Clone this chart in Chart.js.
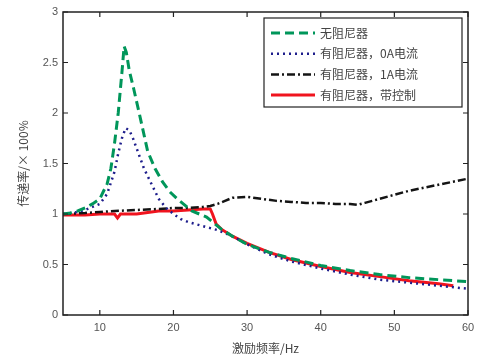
<!DOCTYPE html>
<html>
<head>
<meta charset="utf-8">
<script src="https://cdn.jsdelivr.net/npm/chart.js@4"></script>
<style>
  body { margin: 0; background: #fff; }
</style>
</head>
<body>
<canvas id="chart" width="485" height="360"></canvas>
<script>
// data
const noDamperX = [5, 6, 7, 8, 9, 10, 11, 11.5, 12, 12.5, 13, 13.3, 13.6, 14, 14.6, 15.5, 16.5, 17.5, 18.5, 19.5, 20.5, 21.5, 22.5, 23.5, 24.5, 25.5, 26.5, 28, 30, 33, 36, 40, 44, 48, 52, 56, 60];
const noDamperY = [1.0, 1.01, 1.03, 1.06, 1.1, 1.15, 1.3, 1.45, 1.7, 2.0, 2.4, 2.66, 2.6, 2.42, 2.24, 1.95, 1.62, 1.45, 1.32, 1.22, 1.15, 1.09, 1.03, 1.0, 0.97, 0.91, 0.85, 0.78, 0.7, 0.62, 0.56, 0.49, 0.44, 0.4, 0.37, 0.35, 0.33];

const damper0AX = [5, 6, 7, 8, 9, 10, 11, 12, 12.5, 13, 13.5, 14, 14.5, 15, 16, 17, 18, 19, 20, 21, 22, 23, 24, 25, 26, 28, 30, 33, 36, 40, 44, 48, 52, 56, 60];
const damper0AY = [1.0, 1.01, 1.02, 1.04, 1.07, 1.1, 1.2, 1.42, 1.6, 1.75, 1.85, 1.83, 1.75, 1.65, 1.45, 1.3, 1.15, 1.06, 1.0, 0.95, 0.92, 0.9, 0.88, 0.86, 0.84, 0.78, 0.7, 0.6, 0.53, 0.46, 0.4, 0.35, 0.32, 0.29, 0.26];

const damper1AX = [5, 8, 10, 12, 15, 18, 20, 22, 24, 25, 26, 27, 28, 30, 32, 34, 36, 38, 40, 42, 44, 45, 46, 48, 50, 52, 54, 56, 58, 60];
const damper1AY = [1.0, 1.01, 1.02, 1.03, 1.04, 1.05, 1.06, 1.06, 1.07, 1.08, 1.1, 1.13, 1.16, 1.17, 1.15, 1.13, 1.12, 1.11, 1.11, 1.1, 1.1, 1.09, 1.11, 1.15, 1.19, 1.23, 1.26, 1.29, 1.32, 1.35];

const controlX = [5, 8, 10, 12, 12.4, 12.8, 14, 15, 16, 17, 18, 20, 22, 24, 25, 25.3, 25.8, 26.5, 28, 30, 33, 36, 40, 44, 48, 52, 56, 58];
const controlY = [0.99, 0.99, 1.0, 1.0, 0.96, 1.0, 1.0, 1.0, 1.01, 1.02, 1.03, 1.03, 1.04, 1.05, 1.05, 1.0, 0.9, 0.85, 0.78, 0.71, 0.62, 0.55, 0.48, 0.42, 0.38, 0.34, 0.31, 0.29];

const seriesLabels = ['无阻尼器', '有阻尼器，0A电流', '有阻尼器，1A电流', '有阻尼器，带控制'];
const xTicks = [10, 20, 30, 40, 50, 60];
const yTicks = [0, 0.5, 1, 1.5, 2, 2.5, 3];

function toPoints(xs, ys) {
  return xs.map((x, i) => ({ x: x, y: ys[i] }));
}

// box around the plot with inward ticks on all four sides
const boxPlugin = {
  id: 'box',
  afterDraw(chart) {
    const ctx = chart.ctx;
    const a = chart.chartArea;
    const xs = chart.scales.x, ys = chart.scales.y;
    ctx.save();
    ctx.strokeStyle = '#222';
    ctx.lineWidth = 1.5;
    ctx.strokeRect(a.left, a.top, a.right - a.left, a.bottom - a.top);
    ctx.lineWidth = 1.2;
    ctx.beginPath();
    xTicks.forEach(v => {
      const p = xs.getPixelForValue(v);
      ctx.moveTo(p, a.bottom); ctx.lineTo(p, a.bottom - 5);
      ctx.moveTo(p, a.top); ctx.lineTo(p, a.top + 5);
    });
    yTicks.forEach(v => {
      const p = ys.getPixelForValue(v);
      ctx.moveTo(a.left, p); ctx.lineTo(a.left + 5, p);
      ctx.moveTo(a.right, p); ctx.lineTo(a.right - 5, p);
    });
    ctx.stroke();
    ctx.restore();
  }
};

// legend box inside the plot, top right
const legendPlugin = {
  id: 'boxLegend',
  afterDraw(chart) {
    const ctx = chart.ctx;
    const bx = 264, by = 18, bw = 198, bh = 89;
    ctx.save();
    ctx.fillStyle = '#fff';
    ctx.fillRect(bx, by, bw, bh);
    ctx.strokeStyle = '#222';
    ctx.lineWidth = 1.2;
    ctx.strokeRect(bx, by, bw, bh);
    chart.data.datasets.forEach((ds, i) => {
      const y = by + 15 + i * 20.7;
      ctx.strokeStyle = ds.borderColor;
      ctx.lineWidth = ds.borderWidth;
      ctx.setLineDash(ds.borderDash || []);
      ctx.beginPath();
      ctx.moveTo(bx + 7, y);
      ctx.lineTo(bx + 51, y);
      ctx.stroke();
      ctx.setLineDash([]);
      ctx.fillStyle = '#444';
      ctx.font = '12px "Noto Sans CJK SC"';
      ctx.textBaseline = 'middle';
      ctx.fillText(ds.label, bx + 56, y);
    });
    ctx.restore();
  }
};

const ctx = document.getElementById('chart').getContext('2d');
new Chart(ctx, {
  type: 'line',
  data: {
    datasets: [
      {
        label: seriesLabels[0],
        data: toPoints(noDamperX, noDamperY),
        borderColor: 'rgb(0, 150, 90)',
        borderWidth: 3,
        borderDash: [9, 5]
      },
      {
        label: seriesLabels[1],
        data: toPoints(damper0AX, damper0AY),
        borderColor: 'rgb(30, 30, 140)',
        borderWidth: 2.5,
        borderDash: [2, 4]
      },
      {
        label: seriesLabels[2],
        data: toPoints(damper1AX, damper1AY),
        borderColor: 'rgb(20, 20, 20)',
        borderWidth: 2.5,
        borderDash: [8, 3, 2, 3]
      },
      {
        label: seriesLabels[3],
        data: toPoints(controlX, controlY),
        borderColor: 'rgb(240, 20, 30)',
        borderWidth: 3
      }
    ]
  },
  options: {
    responsive: false,
    animation: false,
    elements: { point: { radius: 0 }, line: { tension: 0 } },
    layout: { padding: { left: 0, top: 12, right: 17, bottom: 0 } },
    plugins: {
      legend: { display: false },
      tooltip: { enabled: false }
    },
    scales: {
      x: {
        type: 'linear',
        min: 5,
        max: 60,
        afterBuildTicks: s => { s.ticks = xTicks.map(v => ({ value: v })); },
        afterFit: s => { s.height = 45; },
        grid: { display: false, drawTicks: false },
        border: { display: false },
        ticks: { color: '#555', font: { family: 'Liberation Sans', size: 11 }, padding: 6 },
        title: {
          display: true,
          text: '激励频率/Hz',
          color: '#444',
          font: { family: 'Noto Sans CJK SC', size: 12 },
          padding: { top: 2, bottom: 4 }
        }
      },
      y: {
        min: 0,
        max: 3,
        afterBuildTicks: s => { s.ticks = yTicks.map(v => ({ value: v })); },
        afterFit: s => { s.width = 63; },
        grid: { display: false, drawTicks: false },
        border: { display: false },
        ticks: {
          color: '#555',
          font: { family: 'Liberation Sans', size: 11 },
          padding: 5,
          callback: v => String(v)
        },
        title: {
          display: true,
          text: '传递率/× 100%',
          color: '#444',
          font: { family: 'Noto Sans CJK SC', size: 12 },
          padding: { top: 16, bottom: 0 }
        }
      }
    }
  },
  plugins: [boxPlugin, legendPlugin]
});
</script>
</body>
</html>
